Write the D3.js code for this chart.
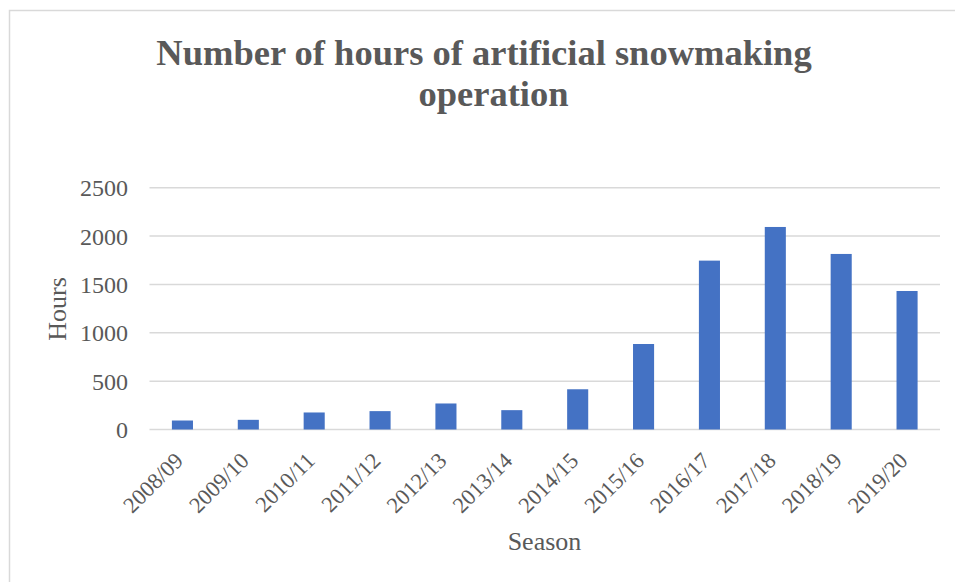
<!DOCTYPE html>
<html>
<head>
<meta charset="utf-8">
<script src="https://cdn.jsdelivr.net/npm/d3@7"></script>
<style>
  html, body { margin: 0; padding: 0; background: #ffffff; }
  svg { display: block; }
  text { font-family: "Liberation Serif", "Times New Roman", serif; fill: #595959; }
</style>
</head>
<body>
<svg id="chart" width="955" height="582"></svg>
<script>
const categories = ["2008/09","2009/10","2010/11","2011/12","2012/13","2013/14","2014/15","2015/16","2016/17","2017/18","2018/19","2019/20"];
const hours = [93, 100, 176, 190, 269, 200, 416, 884, 1746, 2094, 1815, 1432];
const yTicks = [0, 500, 1000, 1500, 2000, 2500];
const titleLines = ["Number of hours of artificial snowmaking", "operation"];
const xTitle = "Season";
const yTitle = "Hours";

const svg = d3.select("#chart");
const W = 955, H = 582;
const plot = { left: 149.5, right: 940, top: 187.7, bottom: 429.5 };

svg.append("rect")
  .attr("x", 9.5).attr("y", 10.5)
  .attr("width", W).attr("height", H)
  .attr("fill", "#ffffff")
  .attr("stroke", "#d9d9d9").attr("stroke-width", 1.5);

const x = d3.scaleBand()
  .domain(categories)
  .range([plot.left, plot.right])
  .paddingInner(0.68)
  .paddingOuter(0.34);

const y = d3.scaleLinear()
  .domain([0, 2500])
  .range([plot.bottom, plot.top]);

// gridlines
svg.append("g")
  .selectAll("line")
  .data(yTicks)
  .join("line")
  .attr("x1", plot.left).attr("x2", plot.right)
  .attr("y1", d => y(d)).attr("y2", d => y(d))
  .attr("stroke", "#d9d9d9").attr("stroke-width", 1.5);

// bars
svg.append("g")
  .selectAll("rect")
  .data(categories)
  .join("rect")
  .attr("x", d => x(d))
  .attr("width", x.bandwidth())
  .attr("y", (d, i) => y(hours[i]))
  .attr("height", (d, i) => y(0) - y(hours[i]))
  .attr("fill", "#4472c4");

// y axis
const yAxis = d3.axisLeft(y).tickValues(yTicks).tickSize(0).tickPadding(21.5).tickFormat(d3.format("d"));
const yg = svg.append("g").attr("transform", `translate(${plot.left},0)`).call(yAxis);
yg.select(".domain").remove();
yg.selectAll("text")
  .attr("font-size", "24px")
  .attr("font-family", "Liberation Serif, serif")
  .attr("fill", "#595959")
  .attr("dy", "0.34em");

// x axis
const xAxis = d3.axisBottom(x).tickSize(0).tickPadding(0);
const xg = svg.append("g").attr("transform", `translate(0,${plot.bottom})`).call(xAxis);
xg.select(".domain").remove();
xg.selectAll("text")
  .attr("font-size", "22.5px")
  .attr("font-family", "Liberation Serif, serif")
  .attr("fill", "#595959")
  .attr("text-anchor", "end")
  .attr("dy", "0")
  .attr("y", 0)
  .attr("transform", "translate(2,32.5) rotate(-45)");

// axis titles
svg.append("text")
  .attr("x", 544.5).attr("y", 550)
  .attr("text-anchor", "middle")
  .attr("font-size", "26px")
  .text(xTitle);

svg.append("text")
  .attr("transform", "translate(66,309) rotate(-90)")
  .attr("text-anchor", "middle")
  .attr("font-size", "26px")
  .text(yTitle);

// title
const titleX = [484, 493.5];
const titleY = [65, 106];
svg.append("g")
  .selectAll("text")
  .data(titleLines)
  .join("text")
  .attr("x", (d, i) => titleX[i])
  .attr("y", (d, i) => titleY[i])
  .attr("text-anchor", "middle")
  .attr("font-size", "36.5px")
  .attr("font-weight", "bold")
  .text(d => d);
</script>
</body>
</html>
